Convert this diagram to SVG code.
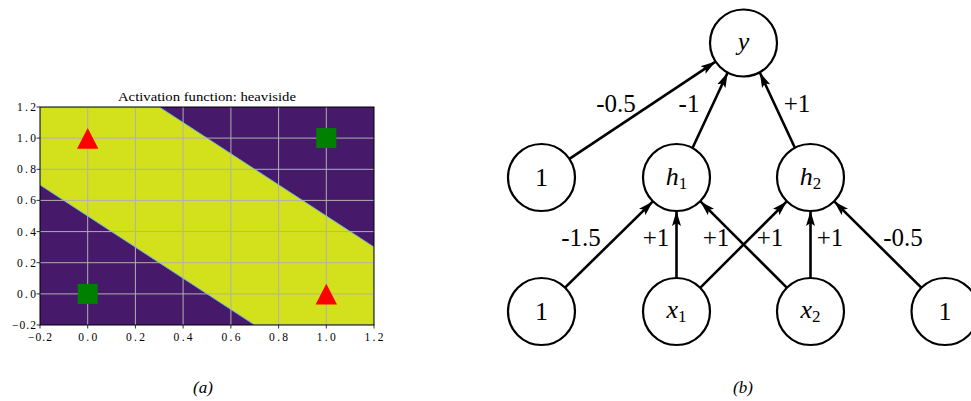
<svg xmlns="http://www.w3.org/2000/svg" width="971" height="401" viewBox="0 0 971 401">
<style>
.tick{font-size:11.5px;fill:#000}
.grid{stroke:#b0b0b0;stroke-width:1}
.node circle{fill:#fff;stroke:#000;stroke-width:2.2}
.nt{font-size:26px;fill:#000;text-anchor:middle}
.it{font-style:italic}
.sub{font-size:17px}
.lbl{font-size:25px;fill:#000;text-anchor:middle}
.edge{stroke:#000;stroke-width:2.6;fill:none;marker-end:url(#ah)}
.cap{font-size:17px;font-style:italic;text-anchor:middle}
</style>
<defs>
<marker id="ah" markerUnits="userSpaceOnUse" markerWidth="16" markerHeight="11" refX="15" refY="5.5" orient="auto">
<path d="M0,1 L15,5.5 L0,10 L3,5.5 Z" fill="#000"/>
</marker>
<clipPath id="pc"><rect x="40" y="107" width="334" height="218"/></clipPath>
</defs>
<rect width="971" height="401" fill="#fff"/>
<g id="plot" font-family="'Liberation Serif', 'Times New Roman', serif">
<text x="207" y="101" text-anchor="middle" font-size="13.5" textLength="178" lengthAdjust="spacingAndGlyphs">Activation function: heaviside</text>
<g clip-path="url(#pc)">
<rect x="40" y="107" width="334" height="218" fill="#46196a"/>
<polygon points="40,184.9 254.7,325 374,325 374,247.1 159.3,107 40,107" fill="#d2e11b" stroke="#6fb4d6" stroke-width="1"/>
<polyline points="40,107 40,184.9" stroke="#d2e11b" stroke-width="1.2" fill="none"/>
</g>
<g class="grid">
<line x1="87.7" y1="107" x2="87.7" y2="325"/><line x1="135.4" y1="107" x2="135.4" y2="325"/><line x1="183.1" y1="107" x2="183.1" y2="325"/><line x1="230.9" y1="107" x2="230.9" y2="325"/><line x1="278.6" y1="107" x2="278.6" y2="325"/><line x1="326.3" y1="107" x2="326.3" y2="325"/>
<line x1="40" y1="293.9" x2="374" y2="293.9"/><line x1="40" y1="262.7" x2="374" y2="262.7"/><line x1="40" y1="231.6" x2="374" y2="231.6"/><line x1="40" y1="200.4" x2="374" y2="200.4"/><line x1="40" y1="169.3" x2="374" y2="169.3"/><line x1="40" y1="138.1" x2="374" y2="138.1"/>
</g>
<rect x="77.7" y="283.9" width="20" height="20" fill="#008000"/>
<rect x="316.3" y="128.1" width="20" height="20" fill="#008000"/>
<polygon points="87.7,128 77,148.8 98.4,148.8" fill="#ff0000"/>
<polygon points="326.3,283.8 315.6,304.6 337,304.6" fill="#ff0000"/>
<rect x="40" y="107" width="334" height="218" fill="none" stroke="#000" stroke-width="1"/>
<g stroke="#000" stroke-width="0.8">
<line x1="40" y1="325" x2="40" y2="328.5"/><line x1="87.7" y1="325" x2="87.7" y2="328.5"/><line x1="135.4" y1="325" x2="135.4" y2="328.5"/><line x1="183.1" y1="325" x2="183.1" y2="328.5"/><line x1="230.9" y1="325" x2="230.9" y2="328.5"/><line x1="278.6" y1="325" x2="278.6" y2="328.5"/><line x1="326.3" y1="325" x2="326.3" y2="328.5"/><line x1="374" y1="325" x2="374" y2="328.5"/>
<line x1="36.5" y1="107" x2="40" y2="107"/><line x1="36.5" y1="138.1" x2="40" y2="138.1"/><line x1="36.5" y1="169.3" x2="40" y2="169.3"/><line x1="36.5" y1="200.4" x2="40" y2="200.4"/><line x1="36.5" y1="231.6" x2="40" y2="231.6"/><line x1="36.5" y1="262.7" x2="40" y2="262.7"/><line x1="36.5" y1="293.9" x2="40" y2="293.9"/><line x1="36.5" y1="325" x2="40" y2="325"/>
</g>
<g class="tick" text-anchor="end">
<text x="36" y="111" textLength="19">1.2</text><text x="36" y="142.1" textLength="19">1.0</text><text x="36" y="173.3" textLength="19">0.8</text><text x="36" y="204.4" textLength="19">0.6</text><text x="36" y="235.6" textLength="19">0.4</text><text x="36" y="266.7" textLength="19">0.2</text><text x="36" y="297.9" textLength="19">0.0</text><text x="36" y="329" textLength="24">−0.2</text>
</g>
<g class="tick" text-anchor="middle">
<text x="40" y="341" textLength="24">−0.2</text><text x="87.7" y="341" textLength="19">0.0</text><text x="135.4" y="341" textLength="19">0.2</text><text x="183.1" y="341" textLength="19">0.4</text><text x="230.9" y="341" textLength="19">0.6</text><text x="278.6" y="341" textLength="19">0.8</text><text x="326.3" y="341" textLength="19">1.0</text><text x="374" y="341" textLength="19">1.2</text>
</g>
</g>
<g font-family="'Liberation Serif', 'Times New Roman', serif">
<text class="cap" x="203" y="393">(a)</text>
<text class="cap" x="743" y="393">(b)</text>
<g id="connectors">
<line class="edge" x1="569.4" y1="158.9" x2="715.6" y2="61.6"/>
<line class="edge" x1="692.5" y1="148" x2="727.7" y2="72.5"/>
<line class="edge" x1="795" y1="148" x2="759.8" y2="72.5"/>
<line class="edge" x1="565" y1="287.6" x2="652.9" y2="201.4"/>
<line class="edge" x1="676.5" y1="278" x2="676.5" y2="211"/>
<line class="edge" x1="700.4" y1="287.6" x2="786.8" y2="201.4"/>
<line class="edge" x1="786.8" y1="287.6" x2="700.4" y2="201.4"/>
<line class="edge" x1="810.5" y1="278" x2="810.5" y2="211"/>
<line class="edge" x1="921.3" y1="287.6" x2="834.2" y2="201.4"/>
</g>
<g id="edge-labels">
<text class="lbl" x="616" y="112">-0.5</text>
<text class="lbl" x="689" y="112">-1</text>
<text class="lbl" x="797" y="112">+1</text>
<text class="lbl" x="581" y="246">-1.5</text>
<text class="lbl" x="656" y="246">+1</text>
<text class="lbl" x="716" y="246">+1</text>
<text class="lbl" x="770" y="246">+1</text>
<text class="lbl" x="830" y="246">+1</text>
<text class="lbl" x="903" y="246">-0.5</text>
</g>
<g id="node-y" class="node"><circle cx="743.5" cy="43" r="33.5"/><text class="nt it" x="743.5" y="50">y</text></g>
<g id="node-b1" class="node"><circle cx="541.5" cy="177.5" r="33.5"/><text class="nt" x="541.5" y="186">1</text></g>
<g id="node-h1" class="node"><circle cx="676.5" cy="177.5" r="33.5"/><text class="nt" x="676.5" y="185"><tspan class="it">h</tspan><tspan class="sub" dy="4">1</tspan></text></g>
<g id="node-h2" class="node"><circle cx="810.5" cy="177.5" r="33.5"/><text class="nt" x="810.5" y="185"><tspan class="it">h</tspan><tspan class="sub" dy="4">2</tspan></text></g>
<g id="node-b2" class="node"><circle cx="541.5" cy="311.5" r="33.5"/><text class="nt" x="541.5" y="320">1</text></g>
<g id="node-x1" class="node"><circle cx="676.5" cy="311.5" r="33.5"/><text class="nt" x="676.5" y="318"><tspan class="it">x</tspan><tspan class="sub" dy="4">1</tspan></text></g>
<g id="node-x2" class="node"><circle cx="810.5" cy="311.5" r="33.5"/><text class="nt" x="810.5" y="318"><tspan class="it">x</tspan><tspan class="sub" dy="4">2</tspan></text></g>
<g id="node-b3" class="node"><circle cx="945" cy="311.5" r="33.5"/><text class="nt" x="945" y="320">1</text></g>
</g>
</svg>
